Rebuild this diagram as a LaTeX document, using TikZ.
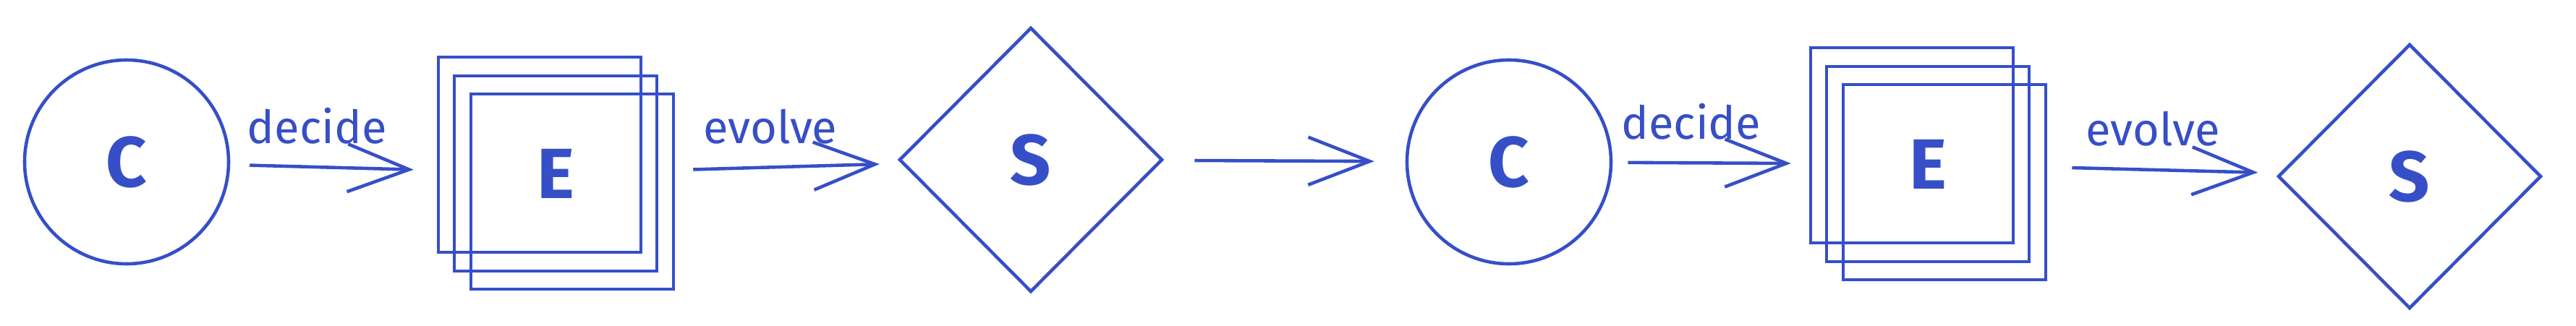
\documentclass[tikz,border=0pt]{standalone}
\usepackage{fontspec}
\setmainfont{Fira Sans}
\usetikzlibrary{arrows.meta,shapes.geometric,shadows}
\definecolor{ink}{HTML}{364FC7}

\begin{document}
\begin{tikzpicture}[
    line width=1.3pt,
    every node/.style={text=ink, font=\fontsize{28}{32}\selectfont\bfseries},
    state/.style={circle, draw=ink, minimum size=2.82cm, inner sep=0pt},
    guard/.style={diamond, draw=ink, minimum width=3.64cm, minimum height=3.66cm, inner sep=0pt},
    stack/.style={
      draw=ink, minimum width=2.8cm, minimum height=2.7cm, inner sep=0pt,
      copy shadow={shadow xshift=-0.22cm, shadow yshift=0.26cm, fill=none, draw=ink},
      copy shadow={shadow xshift=0.23cm, shadow yshift=-0.25cm, fill=none, draw=ink}
    },
    flow/.style={draw=ink, -{Straight Barb[length=8.5mm, width=6.6mm]}, shorten <=0.3cm, shorten >=0.3cm},
    lbl/.style={above=0.3cm, inner sep=0pt, font=\fontsize{18}{22}\selectfont}
  ]
  \useasboundingbox (0,0) rectangle (35.61,4.5);

  % first round
  \node[state] (c1) at (1.75,2.26) {C};
  \node[stack] (e1) at (7.68,2.10) {E};
  \node[guard] (s1) at (14.25,2.29) {S};
  % second round
  \node[state] (c2) at (20.86,2.26) {C};
  \node[stack] (e2) at (26.65,2.23) {E};
  \node[guard] (s2) at (33.31,2.06) {S};

  \draw[flow, shorten <=0.27cm, shorten >=0.54cm] (c1) -- node[lbl, pos=0.39] {decide} (e1);
  \draw[flow, shorten <=0.48cm] (e1) -- node[lbl, pos=0.46] {evolve} (s1);
  \draw[flow, shorten <=0.43cm, shorten >=0.43cm] (s1) -- (c2);
  \draw[flow, shorten <=0.21cm, shorten >=0.47cm] (c2) -- node[lbl, pos=0.37] {decide} (e2);
  \draw[flow, shorten <=0.57cm] (e2) -- node[lbl, pos=0.49] {evolve} (s2);
\end{tikzpicture}
\end{document}
